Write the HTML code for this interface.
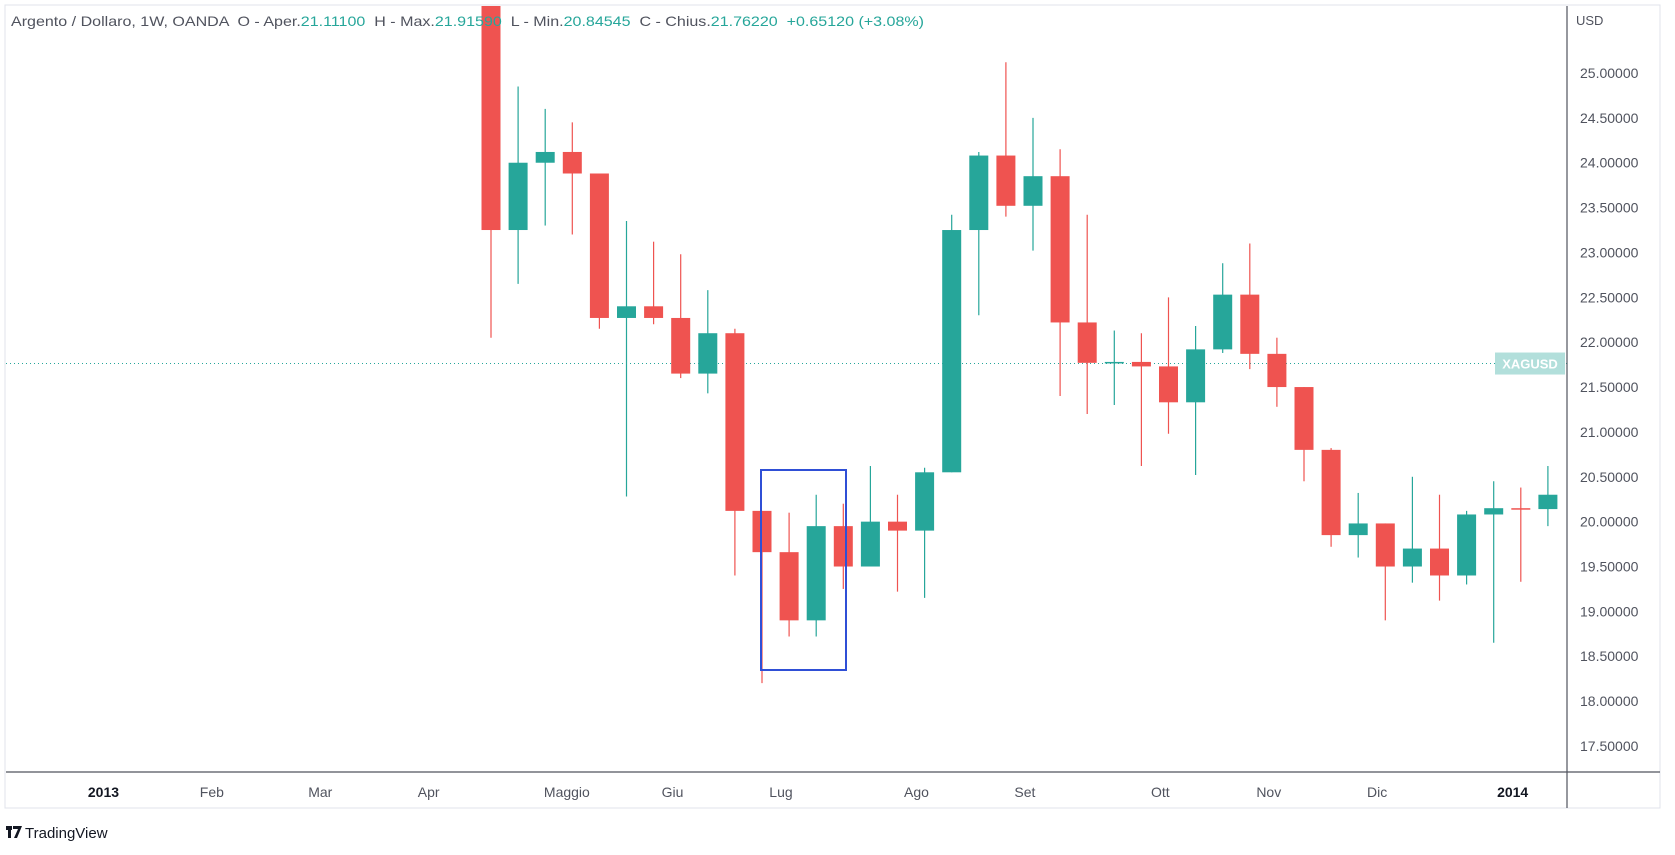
<!DOCTYPE html>
<html><head><meta charset="utf-8"><style>
html,body{margin:0;padding:0;background:#fff;width:1675px;height:855px;overflow:hidden;font-family:"Liberation Sans",sans-serif}
svg{position:absolute;left:0;top:0}
</style></head><body>
<svg id="chart" width="1675" height="855">
<rect x="5" y="5" width="1655" height="803" fill="#fff" stroke="#e0e3eb"/>
<defs><clipPath id="plot"><rect x="6" y="6" width="1561" height="765"/></clipPath></defs>
<g id="candles" clip-path="url(#plot)"></g>
<line x1="1567" y1="6" x2="1567" y2="808" stroke="#50535e" stroke-width="1.2"/>
<line x1="6" y1="772" x2="1660" y2="772" stroke="#50535e" stroke-width="1.2"/>
<g id="yticks"></g><g id="xticks"></g>
<text x="1576" y="25" font-size="13" fill="#50535e">USD</text>
<text x="11" y="26" font-size="14" fill="#50535e" xml:space="preserve" style="white-space:pre" textLength="913" lengthAdjust="spacingAndGlyphs">Argento / Dollaro, 1W, OANDA  O - Aper.<tspan fill="#26a69a">21.11100</tspan>  H - Max.<tspan fill="#26a69a">21.91590</tspan>  L - Min.<tspan fill="#26a69a">20.84545</tspan>  C - Chius.<tspan fill="#26a69a">21.76220</tspan>  <tspan fill="#26a69a">+0.65120 (+3.08%)</tspan></text>
<rect x="761" y="470" width="85" height="200" fill="none" stroke="#2f4fd6" stroke-width="2"/>
<g><rect x="6" y="826" width="6" height="4" fill="#131722"/><rect x="8" y="826" width="3" height="12" fill="#131722"/><path d="M13 826h9l-5 12h-3l4-9h-5z" fill="#131722"/>
<text x="25" y="838" font-size="15" fill="#131722">TradingView</text></g>
</svg>
<script>
const opens  =[26.3,23.25,24.0,24.12,23.88,22.27,22.4,22.27,21.65,22.1,20.12,19.66,18.9,19.95,19.5,20.0,19.9,20.55,23.25,24.08,23.52,23.85,22.22,21.77,21.78,21.73,21.33,21.92,22.53,21.87,21.5,20.8,19.85,19.98,19.5,19.7,19.4,20.08,20.15,20.14];
const highs  =[26.5,24.85,24.6,24.45,23.88,23.35,23.12,22.98,22.58,22.15,20.12,20.1,20.3,20.2,20.62,20.3,20.6,23.42,24.12,25.12,24.5,24.15,23.42,22.13,22.1,22.5,22.18,22.88,23.1,22.05,21.5,20.82,20.32,19.98,20.5,20.3,20.12,20.45,20.38,20.62];
const lows   =[22.05,22.65,23.3,23.2,22.15,20.28,22.2,21.6,21.43,19.4,18.2,18.72,18.72,19.25,19.5,19.22,19.15,20.55,22.3,23.4,23.02,21.4,21.2,21.3,20.62,20.98,20.52,21.88,21.7,21.28,20.45,19.72,19.6,18.9,19.32,19.12,19.3,18.65,19.33,19.95];
const closes =[23.25,24.0,24.12,23.88,22.27,22.4,22.27,21.65,22.1,20.12,19.66,18.9,19.95,19.5,20.0,19.9,20.55,23.25,24.08,23.52,23.85,22.22,21.77,21.78,21.73,21.33,21.92,22.53,21.87,21.5,20.8,19.85,19.98,19.5,19.7,19.4,20.08,20.15,20.14,20.3];
const priceTicks=[25,24.5,24,23.5,23,22.5,22,21.5,21,20.5,20,19.5,19,18.5,18,17.5];
const monthLabels=["2013","Feb","Mar","Apr","Maggio","Giu","Lug","Ago","Set","Ott","Nov","Dic","2014"];
const monthIndex=[-14.3,-10.3,-6.3,-2.3,2.8,6.7,10.7,15.7,19.7,24.7,28.7,32.7,37.7];
const lastPrice=21.7622;
const NS="http://www.w3.org/2000/svg";
const y=p=>73+(25-p)*89.73;
const x=i=>491+i*27.1;
function mk(tag,attrs,parent){const e=document.createElementNS(NS,tag);for(const k in attrs)e.setAttribute(k,attrs[k]);parent.appendChild(e);return e;}
const cg=document.getElementById('candles');
const ly=y(lastPrice);
const pl=mk('line',{x1:6,x2:1567,y1:ly,y2:ly,stroke:'#26a69a','stroke-dasharray':'1 3','stroke-width':1},cg);


opens.forEach((o,i)=>{
 const c=closes[i],up=c>=o,col=up?'#26a69a':'#ef5350',cx=x(i);
 const w=mk('line',{x1:cx,x2:cx,y1:y(highs[i]),y2:y(lows[i]),stroke:col,'stroke-width':1.2},cg);
 
 
 const top=y(Math.max(o,c)),h=Math.max(1.5,Math.abs(y(o)-y(c)));
 const b=mk('rect',{x:cx-9.5,y:top,width:19,height:h,fill:col},cg);
 
 
});
const yt=document.getElementById('yticks');
priceTicks.forEach(p=>{
 const t=mk('text',{x:1580,y:y(p)+5,'font-size':14,fill:'#50535e'},yt);t.textContent=p.toFixed(5);
 
 
});
const lb=mk('rect',{x:1495,y:ly-11,width:70,height:22,fill:'#b2dfdb'},yt);


const lt=mk('text',{x:1530,y:ly+5,'font-size':13,fill:'#fff','text-anchor':'middle','font-weight':'bold'},yt);lt.textContent='XAGUSD';


const xt=document.getElementById('xticks');
monthLabels.forEach((m,i)=>{
 const bold=m.length===4&&!isNaN(m);
 const t=mk('text',{x:x(monthIndex[i]),y:797,'font-size':14,fill:bold?'#131722':'#50535e','text-anchor':'middle','font-weight':bold?'bold':'normal'},xt);
 t.textContent=m;
 
 
});
</script>
</body></html>
